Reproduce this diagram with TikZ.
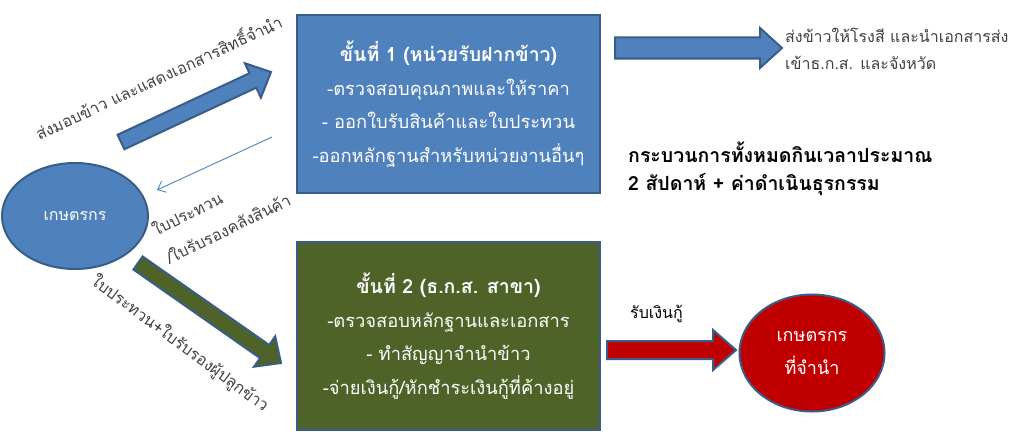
\documentclass[tikz,border=0pt]{standalone}
\usepackage{fontspec}
\newfontfamily\thai[Script=Thai]{Loma}
\usetikzlibrary{calc,arrows.meta,shapes.geometric}
\definecolor{bluefill}{HTML}{4F81BD}
\definecolor{blueline}{HTML}{385D8A}
\definecolor{greenfill}{HTML}{4F6228}
\definecolor{redfill}{HTML}{C00000}
\definecolor{txtgray}{HTML}{404040}
\newcommand\blockarr[6]{% style, from, to, half shaft, half head, head length
  \coordinate (#2-#3-n) at ($(#3)!#6!(#2)$);
  \draw[#1] ($(#2)!#4!90:(#3)$) -- ($(#2-#3-n)!#4!90:(#3)$) -- ($(#2-#3-n)!#5!90:(#3)$) -- (#3)
    -- ($(#2-#3-n)!#5!-90:(#3)$) -- ($(#2-#3-n)!#4!-90:(#3)$) -- ($(#2)!#4!-90:(#3)$) -- cycle;}
\tikzset{
  stepbox/.style={draw=blueline, line width=2.2pt, minimum width=303pt, minimum height=178pt,
    inner sep=0pt, align=center, text=white, font=\thai\fontsize{18.3}{33.5}\selectfont},
  farmer/.style={ellipse, draw=blueline, line width=2pt, inner sep=0pt, align=center},
  lbl/.style={text=txtgray, inner sep=0pt, font=\thai\fontsize{16}{28}\selectfont},
  arrline/.style={draw=blueline, line width=2pt, line join=miter},
}
\begin{document}
\begin{tikzpicture}[x=1pt,y=-1pt]
\useasboundingbox (0,0) rectangle (1024,436);
% boxes
\node[stepbox, fill=bluefill] (s1) at (448.5,104)
  {{\bfseries\fontsize{19.5}{33.5}\selectfont ขั้นที่ 1 (หน่วยรับฝากข้าว)}\\-ตรวจสอบคุณภาพและให้ราคา\\- ออกใบรับสินค้าและใบประทวน\\-ออกหลักฐานสำหรับหน่วยงานอื่นๆ};
\node[stepbox, fill=greenfill, minimum height=188pt] (s2) at (448.5,336)
  {{\bfseries\fontsize{19.5}{33.5}\selectfont ขั้นที่ 2 (ธ.ก.ส. สาขา)}\\-ตรวจสอบหลักฐานและเอกสาร\\- ทำสัญญาจำนำข้าว\\-จ่ายเงินกู้/หักชำระเงินกู้ที่ค้างอยู่};
% ellipses
\node[farmer, fill=bluefill, minimum width=146pt, minimum height=106pt,
  text=white, font=\thai\fontsize{16}{20}\selectfont] (f) at (75,216) {เกษตรกร};
\node[farmer, fill=redfill, minimum width=145pt, minimum height=117pt,
  text=white, font=\thai\fontsize{18}{33}\selectfont] (fr) at (812,353) {เกษตรกร\\ที่จำนำ};
% block arrows
\coordinate (a1) at (121,142); \coordinate (b1) at (271,72);
\coordinate (a2) at (138,263); \coordinate (b2) at (281,363);
\coordinate (a3) at (615,48);  \coordinate (b3) at (782,48);
\coordinate (a4) at (607,350); \coordinate (b4) at (736,350);
\blockarr{arrline, fill=bluefill}{a1}{b1}{8pt}{19pt}{20pt}
\blockarr{arrline, fill=greenfill}{a2}{b2}{8pt}{18.5pt}{20pt}
\blockarr{arrline, fill=bluefill}{a3}{b3}{10.5pt}{20pt}{22pt}
\blockarr{arrline, fill=redfill}{a4}{b4}{9pt}{20pt}{23pt}
% thin arrow
\coordinate (t1) at (272,137); \coordinate (t2) at (157,190);
\draw[bluefill, line width=0.9pt, -{Straight Barb[length=7pt,width=12pt]}] (t1) -- (t2);
% labels
\node[lbl, rotate=25] (l1) at (158,76) {ส่งมอบข้าว และแสดงเอกสารสิทธิ์จำนำ};
\node[lbl, rotate=26, align=left, font=\thai\fontsize{16}{31}\selectfont] (l2) at (221,214) {ใบประทวน\\/ใบรับรองคลังสินค้า};
\node[lbl, rotate=-36.5] (l3) at (180,344) {ใบประทวน+ใบรับรองผู้ปลูกข้าว};
\node[lbl, anchor=west, align=left, font=\thai\fontsize{16}{27}\selectfont] (l4) at (785,49)
  {ส่งข้าวให้โรงสี และนำเอกสารส่ง\\เข้าธ.ก.ส. และจังหวัด};
\node[lbl, text=black, anchor=west, align=left, font=\thai\bfseries\fontsize{19.5}{28}\selectfont] (l5) at (628,169)
  {กระบวนการทั้งหมดกินเวลาประมาณ\\2 สัปดาห์ + ค่าดำเนินธุรกรรม};
\node[lbl, text=black, anchor=west, font=\thai\fontsize{16}{20}\selectfont] (l6) at (630,314) {รับเงินกู้};
\end{tikzpicture}
\end{document}
